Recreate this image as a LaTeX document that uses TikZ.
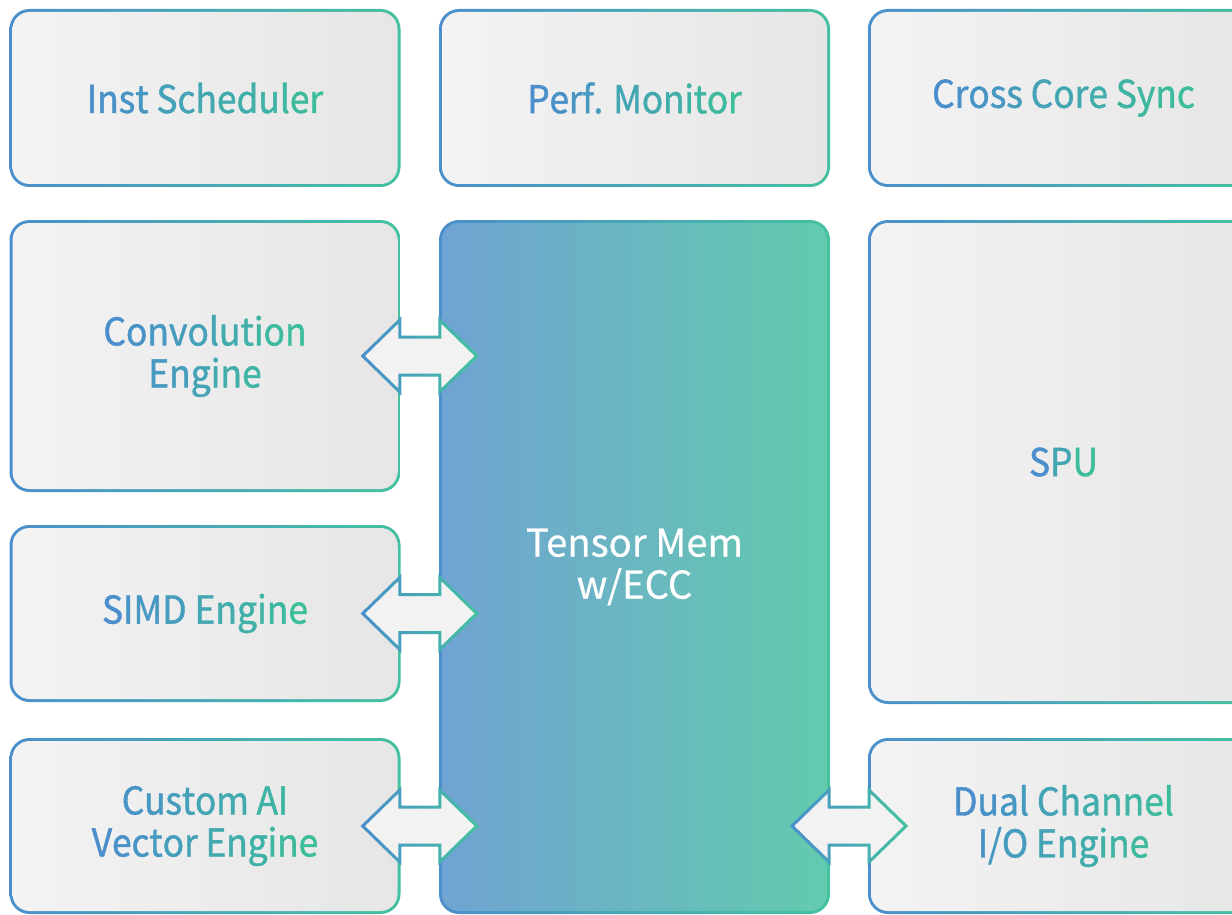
\documentclass[tikz,border=0pt]{standalone}
\usepackage{fontspec}
\setmainfont{Noto Sans CJK SC}[FakeBold=0.6]
\newfontfamily\gfont{Noto Sans CJK SC}[FakeBold=1.1, FakeStretch=0.925]
\usetikzlibrary{calc}
\definecolor{bblue}{HTML}{4A8FCB}
\definecolor{bgreen}{HTML}{44C1A0}
\definecolor{tblue}{HTML}{4A8ECC}
\definecolor{tgreen}{HTML}{3CBE9A}
\definecolor{fillL}{HTML}{F3F3F3}
\definecolor{fillR}{HTML}{E6E6E6}
\definecolor{memL}{HTML}{70A3D3}
\definecolor{memR}{HTML}{62CBAD}
\definecolor{afill}{HTML}{F2F2F2}

\ExplSyntaxOn
\int_new:N \l_gt_n_int
\int_new:N \l_gt_m_int
\int_new:N \l_gt_i_int
\tl_new:N \l_gt_p_tl
\box_new:N \l_gt_full_box
\box_new:N \l_gt_part_box
\dim_new:N \l_gt_k_dim
\cs_new_protected:Npn \gt_chars:nnnn #1#2#3#4
  {
    \int_set:Nn \l_gt_n_int { \str_count:n {#3} }
    \int_zero:N \l_gt_i_int
    \str_map_inline:nn {#3}
      {
        \tl_set:Nx \l_gt_p_tl { \int_eval:n { #1 + (#2 - #1) * \l_gt_i_int / (\l_gt_n_int - 1) } }
        \group_begin:
        \color{tgreen!\l_gt_p_tl!tblue}\relax
        ##1
        \group_end:
        \int_incr:N \l_gt_i_int
        \int_compare:nNnT \l_gt_i_int < \l_gt_n_int { \kern #4 \relax }
      }
  }
\NewDocumentCommand\gtext{O{0}O{100}m}
  {
    \hbox_set:Nn \l_gt_full_box {#3}
    \hbox_set:Nn \l_gt_part_box { \gt_chars:nnnn {#1}{#2}{#3}{0pt} }
    \int_set:Nn \l_gt_m_int { \str_count:n {#3} - 1 }
    \dim_set:Nn \l_gt_k_dim { ( \box_wd:N \l_gt_full_box - \box_wd:N \l_gt_part_box ) / \l_gt_m_int }
    \gt_chars:nnnn {#1}{#2}{#3}{\l_gt_k_dim}
  }
\ExplSyntaxOff

\def\apath#1{([shift={(-57,0)}]#1) -- ([shift={(-20,-36)}]#1) -- ([shift={(-20,-19)}]#1) -- ([shift={(20,-19)}]#1) -- ([shift={(20,-36)}]#1) -- ([shift={(57,0)}]#1) -- ([shift={(20,36)}]#1) -- ([shift={(20,19)}]#1) -- ([shift={(-20,19)}]#1) -- ([shift={(-20,36)}]#1) -- cycle}

\newcommand\garrow[1]{%
  \fill[afill] \apath{#1};
  \foreach \i in {0,...,23} {
    \pgfmathsetmacro\pct{\i*100/23}
    \begin{scope}
      \clip ([shift={(-60+\i*5,-45)}]#1) rectangle ([shift={(-54.6+\i*5,45)}]#1);
      \draw[line width=3pt, line join=miter, draw=bgreen!\pct!bblue] \apath{#1};
    \end{scope}
  }
}

\tikzset{
  box/.style={rounded corners=20pt, inner sep=0pt, draw=none, align=center,
    left color=bblue, right color=bgreen, minimum width=391pt,
    font=\gfont\fontsize{38.3}{42}\selectfont,
    path picture={\shade[left color=fillL, right color=fillR, rounded corners=17pt]
      ([shift={(3,3)}]path picture bounding box.north west) rectangle
      ([shift={(-3,-3)}]path picture bounding box.south east);}},
  membox/.style={rounded corners=20pt, inner sep=0pt, draw=none, align=center,
    left color=bblue, right color=bgreen, minimum width=391pt, text=white,
    font=\fontsize{38.3}{42}\selectfont,
    path picture={\shade[left color=memL, right color=memR, rounded corners=17pt]
      ([shift={(3,3)}]path picture bounding box.north west) rectangle
      ([shift={(-3,-3)}]path picture bounding box.south east);}}
}

\begin{document}
\begin{tikzpicture}[x=1pt, y=-1pt]
\path[use as bounding box] (0,0) rectangle (1232,915);
\clip (0,0) rectangle (1232,915);
\fill[white] (0,0) rectangle (1232,915);

\node[box, minimum height=178pt] (inst) at (205,98) {\gtext{Inst Scheduler}};
\node[box, minimum height=178pt] (perf) at (634.5,98) {\gtext{Perf. Monitor}};
\node[box, minimum height=178pt] (cross) at (1063.5,98) {\gtext{Cross Core Sync}};

\node[box, minimum height=272pt] (conv) at (205,356) {\gtext{Convolution}\\\gtext[23][78]{Engine}};
\node[box, minimum height=177pt] (simd) at (205,613.5) {\gtext{SIMD Engine}};
\node[box, minimum height=176pt] (custom) at (205,826) {\gtext[13][86]{Custom AI}\\\gtext{Vector Engine}};

\node[membox, minimum height=694pt] (tensor) at (634.5,567) {Tensor Mem\\w/ECC};

\node[box, minimum height=484pt] (spu) at (1063.5,462) {\gtext{SPU}};
\node[box, minimum height=176pt] (dual) at (1063.5,826) {\gtext{Dual Channel}\\\gtext[11][89]{I/O Engine}};

\coordinate (a1) at ($(conv.east)!0.5!(tensor.west |- conv.east)$);
\coordinate (a2) at ($(simd.east)!0.5!(tensor.west |- simd.east)$);
\coordinate (a3) at ($(custom.east)!0.5!(tensor.west |- custom.east)$);
\coordinate (a4) at ($(tensor.east |- dual.west)!0.5!(dual.west)$);

\garrow{a1}
\garrow{a2}
\garrow{a3}
\garrow{a4}
\end{tikzpicture}
\end{document}
